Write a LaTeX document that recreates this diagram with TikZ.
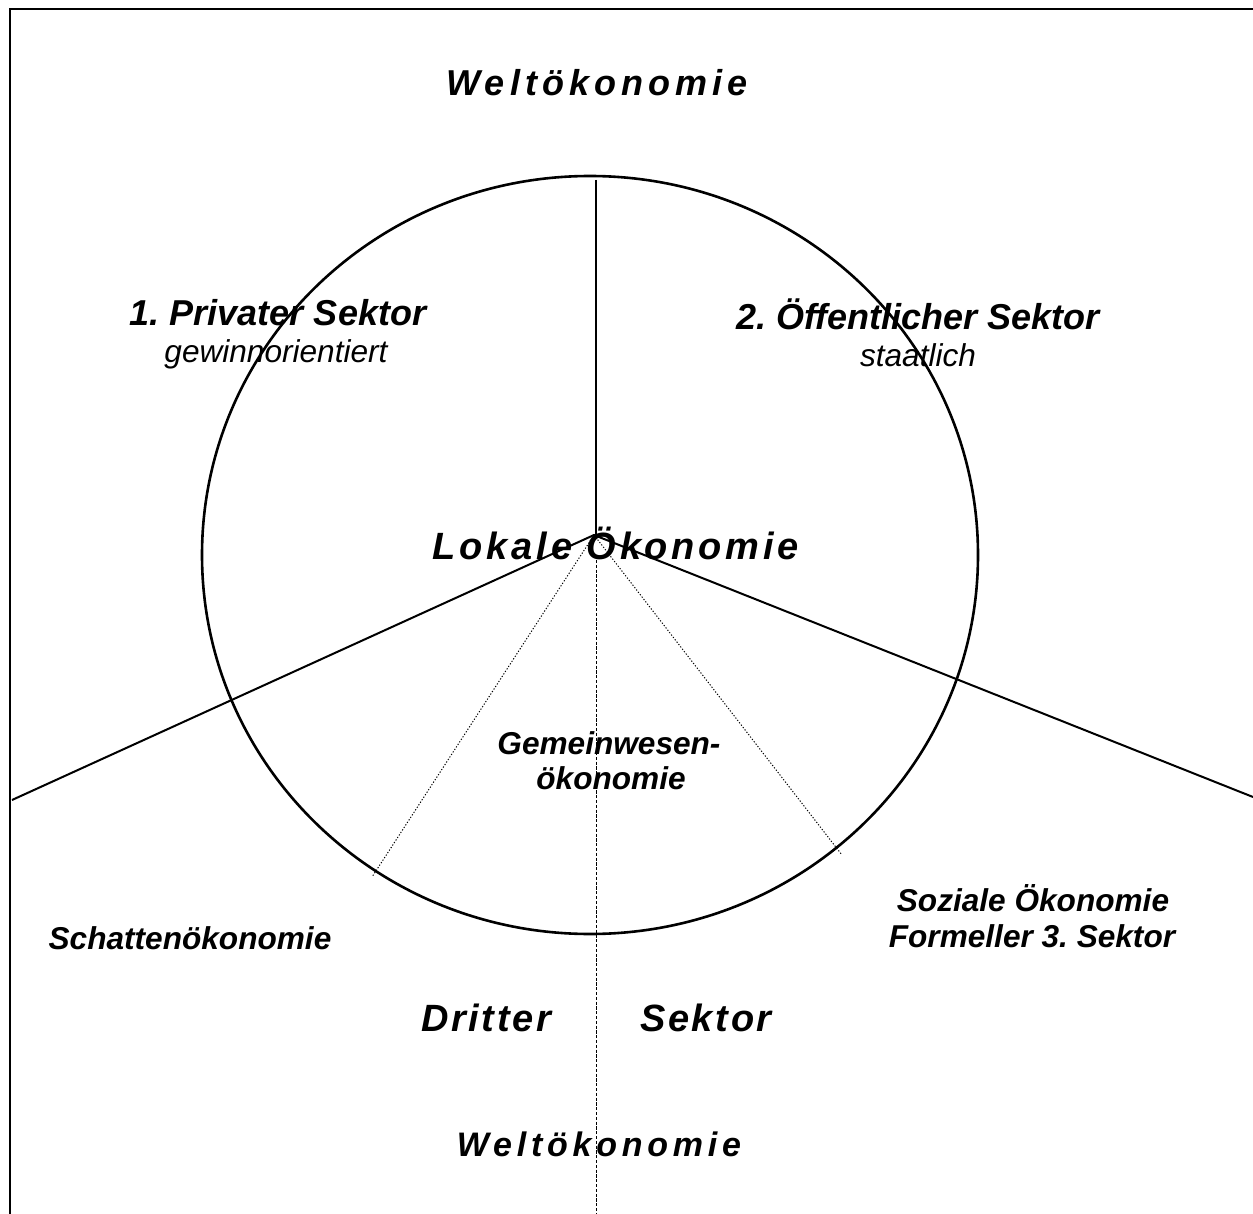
\documentclass[tikz,border=0pt]{standalone}
\usepackage{fontspec}
\setmainfont{Liberation Sans}
\newfontfamily\widefont[LetterSpace=14]{Liberation Sans}
\newfontfamily\midfont[LetterSpace=10]{Liberation Sans}
\newfontfamily\slimfont[LetterSpace=7]{Liberation Sans}
\usetikzlibrary{positioning}
\tikzset{
  frame/.style    ={line width=1pt},
  rim/.style      ={line width=1.3pt},
  spoke/.style    ={line width=1pt},
  divider/.style  ={line width=0.8pt},
  dotspoke/.style ={line width=0.5pt, dash pattern=on 0.6pt off 0.9pt},
  axis/.style     ={line width=0.5pt, dash pattern=on 1.6pt off 0.8pt},
  world/.style    ={anchor=base, inner sep=0pt, font=\widefont\fontsize{18}{21}\selectfont\bfseries\itshape},
  sector/.style   ={anchor=base, inner sep=0pt, font=\fontsize{18}{21}\selectfont\bfseries\itshape},
  sub/.style      ={anchor=base, inner sep=0pt, font=\fontsize{15.8}{18}\selectfont\itshape},
  local/.style    ={anchor=base, inner sep=0pt, font=\midfont\fontsize{19}{22}\selectfont\bfseries\itshape},
  side/.style     ={anchor=base, inner sep=0pt, font=\fontsize{15.8}{18}\selectfont\bfseries\itshape},
  third/.style    ={anchor=base, inner sep=0pt, font=\slimfont\fontsize{19}{22}\selectfont\bfseries\itshape},
}

\begin{document}
\begin{tikzpicture}[x=0.5pt, y=-0.5pt]
  \useasboundingbox (0,0) rectangle (1253,1214);

  % frame (only top and left edge are visible)
  \draw[frame] (10,1214) -- (10,9) -- (1253,9);

  % circle and spokes
  \coordinate (mid) at (590,555);
  \coordinate (hub) at (594,535);
  \coordinate (top) at (596,180);
  \coordinate (hubv) at (596,535);
  \coordinate (axtop) at (596,560);
  \coordinate (axbot) at (596,1214);
  \coordinate (leftend) at (12,800);
  \coordinate (rightend) at (1253,797);
  \coordinate (dotl) at (372,877);
  \coordinate (dotr) at (842,855);
  \draw[rim] (mid) ellipse [x radius=388, y radius=379];
  \draw[divider] (top) -- (hubv);
  \draw[spoke] (leftend) -- (hub) -- (rightend);
  \draw[dotspoke] (hub) -- (dotl);
  \draw[dotspoke] (hub) -- (dotr);
  \draw[axis] (axtop) -- (axbot);

  % labels
  \node[world] (welttop) at (597,96) {Weltökonomie};
  \node[sector] (privat) at (278,326) {1.\ Privater Sektor};
  \node[sub] (gewinn) at (276,362) {gewinnorientiert};
  \node[sector] (oeff) at (918,329) {2.\ Öffentlicher Sektor};
  \node[sub] (staat) at (918,366) {staatlich};
  \node[local] (lokal) at (616,559) {Lokale Ökonomie};
  \node[side] (gem1) at (609,754) {Gemeinwesen-};
  \node[side] (gem2) at (611,789) {ökonomie};
  \node[side] (sozial) at (1033,911) {Soziale Ökonomie};
  \node[side] (formell) at (1032,947) {Formeller 3.\ Sektor};
  \node[side] (schatten) at (190,949) {Schattenökonomie};
  \node[third] (dritter) at (486,1031) {Dritter};
  \node[third] (sektor) at (706,1031) {Sektor};
  \node[world, font=\widefont\fontsize{17}{20}\selectfont\bfseries\itshape] (weltbot) at (599,1156) {Weltökonomie};
\end{tikzpicture}
\end{document}
